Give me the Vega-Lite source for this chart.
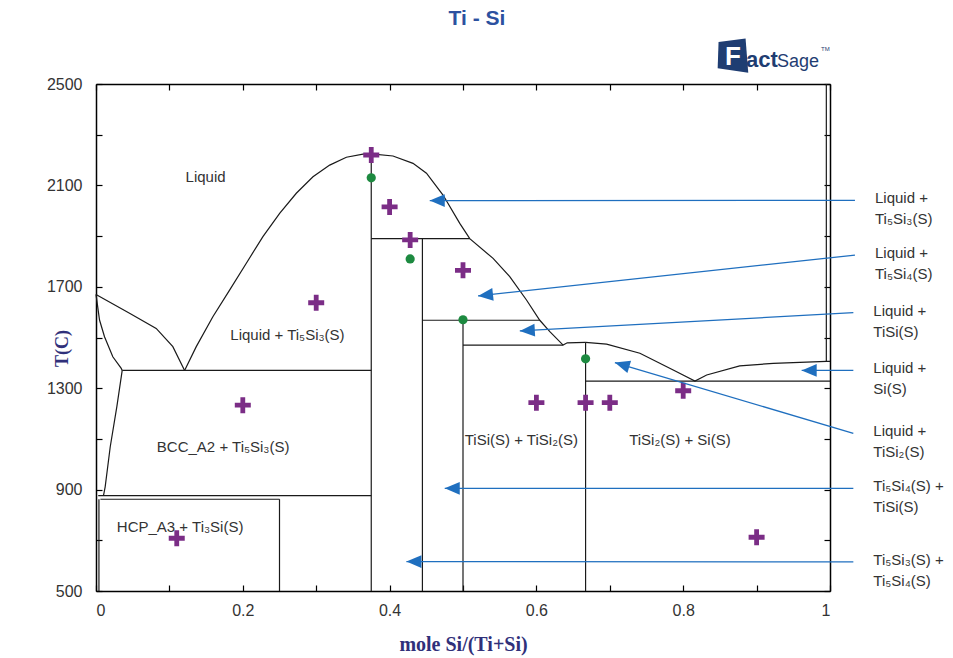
{
  "$schema": "https://vega.github.io/schema/vega-lite/v6.json",
  "width": 734,
  "height": 507,
  "autosize": "none",
  "padding": {"left": 96, "top": 84, "right": 123, "bottom": 67},
  "background": "white",
  "config": {
    "view": {"stroke": null},
    "font": "Liberation Sans"
  },
  "datasets": {
    "phase": [
      {"seg": "L1", "i": 0, "x": 0, "T": 1670},
      {"seg": "L1", "i": 1, "x": 0.0457, "T": 1596},
      {"seg": "L1", "i": 2, "x": 0.082, "T": 1536},
      {"seg": "L1", "i": 3, "x": 0.1047, "T": 1464},
      {"seg": "L1", "i": 4, "x": 0.1207, "T": 1370},
      {"seg": "L2", "i": 0, "x": 0.1207, "T": 1370},
      {"seg": "L2", "i": 1, "x": 0.1366, "T": 1464},
      {"seg": "L2", "i": 2, "x": 0.1592, "T": 1582},
      {"seg": "L2", "i": 3, "x": 0.182, "T": 1687},
      {"seg": "L2", "i": 4, "x": 0.2048, "T": 1793},
      {"seg": "L2", "i": 5, "x": 0.2274, "T": 1898},
      {"seg": "L2", "i": 6, "x": 0.2502, "T": 1990},
      {"seg": "L2", "i": 7, "x": 0.2729, "T": 2069},
      {"seg": "L2", "i": 8, "x": 0.2956, "T": 2134},
      {"seg": "L2", "i": 9, "x": 0.3184, "T": 2180},
      {"seg": "L2", "i": 10, "x": 0.3411, "T": 2211},
      {"seg": "L2", "i": 11, "x": 0.3637, "T": 2223},
      {"seg": "L2", "i": 12, "x": 0.375, "T": 2224},
      {"seg": "L2", "i": 13, "x": 0.4046, "T": 2216},
      {"seg": "L2", "i": 14, "x": 0.4319, "T": 2187},
      {"seg": "L2", "i": 15, "x": 0.4502, "T": 2148},
      {"seg": "L2", "i": 16, "x": 0.4728, "T": 2062},
      {"seg": "L2", "i": 17, "x": 0.4956, "T": 1950},
      {"seg": "L2", "i": 18, "x": 0.5092, "T": 1890},
      {"seg": "L2", "i": 19, "x": 0.541, "T": 1812},
      {"seg": "L2", "i": 20, "x": 0.5637, "T": 1740},
      {"seg": "L2", "i": 21, "x": 0.5865, "T": 1648},
      {"seg": "L2", "i": 22, "x": 0.6046, "T": 1568},
      {"seg": "L2", "i": 23, "x": 0.6183, "T": 1523},
      {"seg": "L2", "i": 24, "x": 0.6364, "T": 1470},
      {"seg": "L2", "i": 25, "x": 0.642, "T": 1479},
      {"seg": "L2", "i": 26, "x": 0.667, "T": 1481},
      {"seg": "L3", "i": 0, "x": 0.667, "T": 1481},
      {"seg": "L3", "i": 1, "x": 0.6956, "T": 1474},
      {"seg": "L3", "i": 2, "x": 0.741, "T": 1438},
      {"seg": "L3", "i": 3, "x": 0.7864, "T": 1372},
      {"seg": "L3", "i": 4, "x": 0.816, "T": 1328},
      {"seg": "L3", "i": 5, "x": 0.832, "T": 1352},
      {"seg": "L3", "i": 6, "x": 0.877, "T": 1388},
      {"seg": "L3", "i": 7, "x": 0.9227, "T": 1398},
      {"seg": "L3", "i": 8, "x": 0.995, "T": 1406},
      {"seg": "L3", "i": 9, "x": 1, "T": 1406},
      {"seg": "B1", "i": 0, "x": 0, "T": 1670},
      {"seg": "B1", "i": 1, "x": 0.0048, "T": 1569},
      {"seg": "B1", "i": 2, "x": 0.0116, "T": 1503},
      {"seg": "B1", "i": 3, "x": 0.0229, "T": 1424},
      {"seg": "B1", "i": 4, "x": 0.0344, "T": 1378},
      {"seg": "B1", "i": 5, "x": 0.0357, "T": 1370},
      {"seg": "B2", "i": 0, "x": 0.0357, "T": 1370},
      {"seg": "B2", "i": 1, "x": 0.0284, "T": 1227},
      {"seg": "B2", "i": 2, "x": 0.0194, "T": 1069},
      {"seg": "B2", "i": 3, "x": 0.0125, "T": 911},
      {"seg": "B2", "i": 4, "x": 0.0102, "T": 876},
      {"seg": "H1370", "i": 0, "x": 0.0357, "T": 1370},
      {"seg": "H1370", "i": 1, "x": 0.375, "T": 1370},
      {"seg": "H876", "i": 0, "x": 0.003, "T": 876},
      {"seg": "H876", "i": 1, "x": 0.375, "T": 876},
      {"seg": "H862", "i": 0, "x": 0.006, "T": 862},
      {"seg": "H862", "i": 1, "x": 0.25, "T": 862},
      {"seg": "V0250", "i": 0, "x": 0.25, "T": 862},
      {"seg": "V0250", "i": 1, "x": 0.25, "T": 500},
      {"seg": "V0375", "i": 0, "x": 0.375, "T": 2224},
      {"seg": "V0375", "i": 1, "x": 0.375, "T": 500},
      {"seg": "H1890", "i": 0, "x": 0.375, "T": 1890},
      {"seg": "H1890", "i": 1, "x": 0.5092, "T": 1890},
      {"seg": "V0444", "i": 0, "x": 0.4447, "T": 1890},
      {"seg": "V0444", "i": 1, "x": 0.4447, "T": 500},
      {"seg": "H1568", "i": 0, "x": 0.4447, "T": 1568},
      {"seg": "H1568", "i": 1, "x": 0.6046, "T": 1568},
      {"seg": "V0500", "i": 0, "x": 0.5, "T": 1568},
      {"seg": "V0500", "i": 1, "x": 0.5, "T": 500},
      {"seg": "H1470", "i": 0, "x": 0.5, "T": 1470},
      {"seg": "H1470", "i": 1, "x": 0.6364, "T": 1470},
      {"seg": "V0667", "i": 0, "x": 0.667, "T": 1481},
      {"seg": "V0667", "i": 1, "x": 0.667, "T": 500},
      {"seg": "H1328", "i": 0, "x": 0.667, "T": 1328},
      {"seg": "H1328", "i": 1, "x": 1, "T": 1328},
      {"seg": "VSi", "i": 0, "x": 0.995, "T": 1406},
      {"seg": "VSi", "i": 1, "x": 0.995, "T": 2500},
      {"seg": "VHCP", "i": 0, "x": 0.004, "T": 862},
      {"seg": "VHCP", "i": 1, "x": 0.004, "T": 500}
    ],
    "calc": [
      {"x": 0.375, "T": 2220},
      {"x": 0.4, "T": 2015},
      {"x": 0.428, "T": 1885},
      {"x": 0.5, "T": 1765},
      {"x": 0.3, "T": 1637},
      {"x": 0.2, "T": 1233},
      {"x": 0.11, "T": 708},
      {"x": 0.6, "T": 1243},
      {"x": 0.667, "T": 1243},
      {"x": 0.7, "T": 1243},
      {"x": 0.8, "T": 1290},
      {"x": 0.9, "T": 712}
    ],
    "expt": [
      {"x": 0.375, "T": 2130},
      {"x": 0.428, "T": 1810},
      {"x": 0.5, "T": 1570},
      {"x": 0.667, "T": 1416}
    ],
    "arrows": [
      {"id": "A1", "x0": 1.034, "T0": 2041, "x1": 0.4547, "T1": 2040, "label": "Liquid +\nTi₅Si₃(S)"},
      {"id": "A2", "x0": 1.034, "T0": 1825, "x1": 0.5205, "T1": 1664, "label": "Liquid +\nTi₅Si₄(S)"},
      {"id": "A3", "x0": 1.0318, "T0": 1598, "x1": 0.5774, "T1": 1526, "label": "Liquid +\nTiSi(S)"},
      {"id": "A4", "x0": 1.0318, "T0": 1370, "x1": 0.9614, "T1": 1370, "label": "Liquid +\nSi(S)"},
      {"id": "A5", "x0": 1.0318, "T0": 1122, "x1": 0.7069, "T1": 1401, "label": "Liquid +\nTiSi₂(S)"},
      {"id": "A6", "x0": 1.0318, "T0": 905, "x1": 0.4751, "T1": 905, "label": "Ti₅Si₄(S) +\nTiSi(S)"},
      {"id": "A7", "x0": 1.0318, "T0": 615, "x1": 0.4229, "T1": 616, "label": "Ti₅Si₃(S) +\nTi₅Si₄(S)"}
    ],
    "regions": [
      {"label": "Liquid", "x": 0.122, "T": 2133},
      {"label": "Liquid + Ti₅Si₃(S)", "x": 0.183, "T": 1510},
      {"label": "BCC_A2 + Ti₅Si₃(S)", "x": 0.0829, "T": 1068},
      {"label": "HCP_A3 + Ti₃Si(S)", "x": 0.0284, "T": 754},
      {"label": "TiSi(S) + TiSi₂(S)", "x": 0.5024, "T": 1094},
      {"label": "TiSi₂(S) + Si(S)", "x": 0.7264, "T": 1094}
    ],
    "one": [{}]
  },
  "resolve": {"axis": {"x": "independent", "y": "independent"}},
  "layer": [
    {
      "data": {"name": "phase"},
      "mark": {"type": "line", "color": "#1a1a1a", "strokeWidth": 1.2},
      "encoding": {
        "x": {
          "field": "x", "type": "quantitative",
          "scale": {"domain": [0, 1], "nice": false, "zero": false},
          "axis": {
            "orient": "bottom",
            "values": [0, 0.1, 0.2, 0.3, 0.4, 0.5, 0.6, 0.7, 0.8, 0.9, 1],
            "format": "~g",
            "labelExpr": "round(datum.value * 10) % 2 == 0 ? datum.label : ''",
            "ticks": true,
            "tickSize": -6,
            "tickColor": "#000", "tickWidth": 1.2,
            "domainColor": "#000", "domainWidth": 1.5,
            "grid": false,
            "labelFont": "Liberation Sans", "labelFontSize": 16, "labelColor": "#333",
            "labelPadding": 17,
            "title": "mole Si/(Ti+Si)",
            "titleFont": "Liberation Serif", "titleFontSize": 20, "titleFontWeight": "bold",
            "titleColor": "#30307a",
            "titleY": 53, "titleBaseline": "middle"
          }
        },
        "y": {
          "field": "T", "type": "quantitative",
          "scale": {"domain": [500, 2500], "nice": false, "zero": false},
          "axis": {
            "orient": "left",
            "values": [500, 700, 900, 1100, 1300, 1500, 1700, 1900, 2100, 2300, 2500],
            "labelExpr": "(datum.value - 500) % 400 == 0 ? datum.label : ''",
            "format": "d",
            "ticks": true,
            "tickSize": -6,
            "tickColor": "#000", "tickWidth": 1.2,
            "domainColor": "#000", "domainWidth": 1.5,
            "grid": false,
            "labelFont": "Liberation Sans", "labelFontSize": 16, "labelColor": "#333",
            "labelPadding": 20,
            "title": "T(C)",
            "titleFont": "Liberation Serif", "titleFontSize": 18, "titleFontWeight": "bold",
            "titleColor": "#30307a",
            "titleAngle": -90, "titleX": -34, "titleY": 264,
            "titleAlign": "center", "titleBaseline": "middle"
          }
        },
        "detail": {"field": "seg"},
        "order": {"field": "i", "type": "quantitative"}
      }
    },
    {
      "data": {"name": "calc"},
      "mark": {
        "type": "point", "filled": true, "opacity": 1, "color": "#7b2d86", "size": 256,
        "shape": "M-1,-0.3L-0.3,-0.3L-0.3,-1L0.3,-1L0.3,-0.3L1,-0.3L1,0.3L0.3,0.3L0.3,1L-0.3,1L-0.3,0.3L-1,0.3Z"
      },
      "encoding": {
        "x": {
          "field": "x", "type": "quantitative",
          "scale": {"domain": [0, 1], "nice": false, "zero": false},
          "axis": {
            "orient": "top",
            "values": [0, 0.1, 0.2, 0.3, 0.4, 0.5, 0.6, 0.7, 0.8, 0.9, 1],
            "labels": false,
            "ticks": true,
            "tickSize": -6,
            "tickColor": "#000", "tickWidth": 1.2,
            "domainColor": "#000", "domainWidth": 1.5,
            "grid": false, "title": null
          }
        },
        "y": {
          "field": "T", "type": "quantitative",
          "scale": {"domain": [500, 2500], "nice": false, "zero": false},
          "axis": {
            "orient": "right",
            "values": [500, 700, 900, 1100, 1300, 1500, 1700, 1900, 2100, 2300, 2500],
            "labels": false,
            "ticks": true,
            "tickSize": -6,
            "tickColor": "#000", "tickWidth": 1.2,
            "domainColor": "#000", "domainWidth": 1.5,
            "grid": false, "title": null
          }
        }
      }
    },
    {
      "data": {"name": "expt"},
      "mark": {"type": "circle", "color": "#1d8a40", "opacity": 1, "size": 85},
      "encoding": {
        "x": {"field": "x", "type": "quantitative", "scale": {"domain": [0, 1], "nice": false, "zero": false}, "axis": null},
        "y": {"field": "T", "type": "quantitative", "scale": {"domain": [500, 2500], "nice": false, "zero": false}, "axis": null}
      }
    },
    {
      "data": {"name": "arrows"},
      "mark": {"type": "rule", "color": "#1f6fbf", "strokeWidth": 1.3},
      "encoding": {
        "x": {"field": "x0", "type": "quantitative", "scale": {"domain": [0, 1], "nice": false, "zero": false}, "axis": null},
        "y": {"field": "T0", "type": "quantitative", "scale": {"domain": [500, 2500], "nice": false, "zero": false}, "axis": null},
        "x2": {"field": "x1"},
        "y2": {"field": "T1"}
      }
    },
    {
      "data": {"name": "arrows"},
      "mark": {
        "type": "point", "filled": true, "opacity": 1, "color": "#1f6fbf", "size": 225,
        "shape": "M0,0L2,-0.85L2,0.85Z"
      },
      "encoding": {
        "x": {"field": "x1", "type": "quantitative", "scale": {"domain": [0, 1], "nice": false, "zero": false}, "axis": null},
        "y": {"field": "T1", "type": "quantitative", "scale": {"domain": [500, 2500], "nice": false, "zero": false}, "axis": null},
        "angle": {
          "condition": [
            {"test": "datum.id === 'A2'", "value": -6.2},
            {"test": "datum.id === 'A3'", "value": -3.1},
            {"test": "datum.id === 'A5'", "value": 16.7}
          ],
          "value": 0
        }
      }
    },
    {
      "data": {"name": "arrows"},
      "mark": {
        "type": "text", "align": "left", "baseline": "middle", "dx": 20, "dy": -2,
        "lineBreak": "\n", "lineHeight": 21,
        "font": "Liberation Sans", "fontSize": 15, "color": "#333"
      },
      "encoding": {
        "x": {"field": "x0", "type": "quantitative", "scale": {"domain": [0, 1], "nice": false, "zero": false}, "axis": null},
        "y": {"field": "T0", "type": "quantitative", "scale": {"domain": [500, 2500], "nice": false, "zero": false}, "axis": null},
        "text": {"field": "label"}
      }
    },
    {
      "data": {"name": "regions"},
      "mark": {
        "type": "text", "align": "left", "baseline": "middle",
        "font": "Liberation Sans", "fontSize": 15, "color": "#333"
      },
      "encoding": {
        "x": {"field": "x", "type": "quantitative", "scale": {"domain": [0, 1], "nice": false, "zero": false}, "axis": null},
        "y": {"field": "T", "type": "quantitative", "scale": {"domain": [500, 2500], "nice": false, "zero": false}, "axis": null},
        "text": {"field": "label"}
      }
    },
    {
      "data": {"name": "one"},
      "mark": {
        "type": "text", "text": "Ti - Si", "align": "center", "baseline": "middle",
        "font": "Liberation Sans", "fontSize": 21, "fontWeight": "bold", "color": "#2c51a0"
      },
      "encoding": {
        "x": {"datum": 0.519, "type": "quantitative", "scale": {"domain": [0, 1], "nice": false, "zero": false}, "axis": null},
        "y": {"datum": 2756, "type": "quantitative", "scale": {"domain": [500, 2500], "nice": false, "zero": false}, "axis": null}
      }
    },
    {
      "data": {"name": "one"},
      "mark": {
        "type": "point", "filled": true, "opacity": 1, "color": "#1f3d72", "size": 1296,
        "shape": "M-0.8,-0.75L0.7,-0.95L0.85,0.95L-0.85,0.7Z"
      },
      "encoding": {
        "x": {"datum": 0.8678, "type": "quantitative", "scale": {"domain": [0, 1], "nice": false, "zero": false}, "axis": null},
        "y": {"datum": 2612, "type": "quantitative", "scale": {"domain": [500, 2500], "nice": false, "zero": false}, "axis": null}
      }
    },
    {
      "data": {"name": "one"},
      "mark": {
        "type": "text", "text": "F", "align": "center", "baseline": "middle",
        "font": "Liberation Sans", "fontSize": 26, "fontWeight": "bold", "color": "white"
      },
      "encoding": {
        "x": {"datum": 0.8678, "type": "quantitative", "scale": {"domain": [0, 1], "nice": false, "zero": false}, "axis": null},
        "y": {"datum": 2608, "type": "quantitative", "scale": {"domain": [500, 2500], "nice": false, "zero": false}, "axis": null}
      }
    },
    {
      "data": {"name": "one"},
      "mark": {
        "type": "text", "text": "act", "align": "left", "baseline": "alphabetic",
        "font": "Liberation Sans", "fontSize": 22, "fontWeight": "bold", "color": "#1f3d72"
      },
      "encoding": {
        "x": {"datum": 0.8856, "type": "quantitative", "scale": {"domain": [0, 1], "nice": false, "zero": false}, "axis": null},
        "y": {"datum": 2567, "type": "quantitative", "scale": {"domain": [500, 2500], "nice": false, "zero": false}, "axis": null}
      }
    },
    {
      "data": {"name": "one"},
      "mark": {
        "type": "text", "text": "Sage", "align": "left", "baseline": "alphabetic",
        "font": "Liberation Sans", "fontSize": 18, "color": "#1f3d72"
      },
      "encoding": {
        "x": {"datum": 0.9278, "type": "quantitative", "scale": {"domain": [0, 1], "nice": false, "zero": false}, "axis": null},
        "y": {"datum": 2567, "type": "quantitative", "scale": {"domain": [500, 2500], "nice": false, "zero": false}, "axis": null}
      }
    },
    {
      "data": {"name": "one"},
      "mark": {
        "type": "text", "text": "TM", "align": "left", "baseline": "alphabetic",
        "font": "Liberation Sans", "fontSize": 6, "color": "#1f3d72"
      },
      "encoding": {
        "x": {"datum": 0.9878, "type": "quantitative", "scale": {"domain": [0, 1], "nice": false, "zero": false}, "axis": null},
        "y": {"datum": 2630, "type": "quantitative", "scale": {"domain": [500, 2500], "nice": false, "zero": false}, "axis": null}
      }
    }
  ]
}
